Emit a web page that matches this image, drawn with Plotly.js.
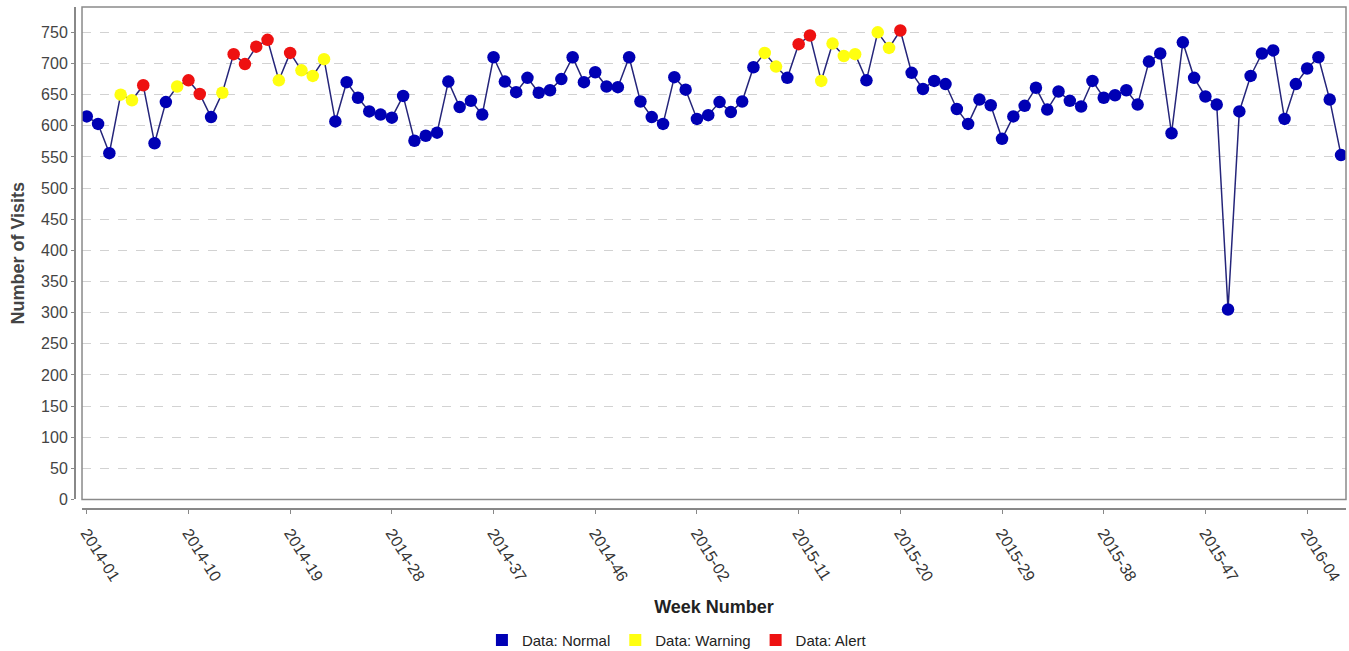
<!DOCTYPE html>
<html>
<head>
<meta charset="utf-8">
<script src="https://cdn.plot.ly/plotly-3.0.1.min.js"></script>
<style>html,body{margin:0;padding:0;background:#fff;}#chart{width:1349px;height:651px;}</style>
</head>
<body>
<div id="chart"></div>
<script>
const weeks = [
"2014-01","2014-02","2014-03","2014-04","2014-05","2014-06","2014-07","2014-08","2014-09","2014-10",
"2014-11","2014-12","2014-13","2014-14","2014-15","2014-16","2014-17","2014-18","2014-19","2014-20",
"2014-21","2014-22","2014-23","2014-24","2014-25","2014-26","2014-27","2014-28","2014-29","2014-30",
"2014-31","2014-32","2014-33","2014-34","2014-35","2014-36","2014-37","2014-38","2014-39","2014-40",
"2014-41","2014-42","2014-43","2014-44","2014-45","2014-46","2014-47","2014-48","2014-49","2014-50",
"2014-51","2014-52","2014-53",
"2015-01","2015-02","2015-03","2015-04","2015-05","2015-06","2015-07","2015-08","2015-09","2015-10",
"2015-11","2015-12","2015-13","2015-14","2015-15","2015-16","2015-17","2015-18","2015-19","2015-20",
"2015-21","2015-22","2015-23","2015-24","2015-25","2015-26","2015-27","2015-28","2015-29","2015-30",
"2015-31","2015-32","2015-33","2015-34","2015-35","2015-36","2015-37","2015-38","2015-39","2015-40",
"2015-41","2015-42","2015-43","2015-44","2015-45","2015-46","2015-47","2015-48","2015-49","2015-50",
"2015-51","2015-52",
"2016-01","2016-02","2016-03","2016-04","2016-05","2016-06","2016-07"
];

const visits = [
615,603,556,650,641,665,572,638,663,673,
651,614,653,715,699,727,738,673,717,689,
680,707,607,670,645,623,618,613,648,576,
584,589,671,630,640,618,710,671,654,677,
653,657,675,710,670,686,663,662,710,639,
614,603,678,658,611,617,638,622,639,694,
717,695,677,731,745,672,732,712,715,673,
750,725,753,685,659,672,667,627,603,642,
633,579,615,632,661,626,655,640,631,672,
645,649,657,634,703,716,588,734,677,647,
634,305,623,680,716,721,611,667,692,710,
642,553
];

const status = [
"N","N","N","W","W","A","N","N","W","A",
"A","N","W","A","A","A","A","W","A","W",
"W","W","N","N","N","N","N","N","N","N",
"N","N","N","N","N","N","N","N","N","N",
"N","N","N","N","N","N","N","N","N","N",
"N","N","N","N","N","N","N","N","N","N",
"W","W","N","A","A","W","W","W","W","N",
"W","W","A","N","N","N","N","N","N","N",
"N","N","N","N","N","N","N","N","N","N",
"N","N","N","N","N","N","N","N","N","N",
"N","N","N","N","N","N","N","N","N","N",
"N","N"
];

const tickLabels = ["2014-01","2014-10","2014-19","2014-28","2014-37","2014-46","2015-02","2015-11","2015-20","2015-29","2015-38","2015-47","2016-04"];
const yTicks = [0,50,100,150,200,250,300,350,400,450,500,550,600,650,700,750];

const seriesNames = {N: "Data: Normal", W: "Data: Warning", A: "Data: Alert"};
const seriesColors = {N: "#0000b4", W: "#ffff10", A: "#ee1111"};

const traces = [];
traces.push({
  type: "scatter", mode: "lines", x: weeks, y: visits,
  line: {color: "#25257a", width: 1.5}, showlegend: false, hoverinfo: "skip"
});
["N","W","A"].forEach(function(k){
  const xs = [], ys = [];
  for (let i = 0; i < weeks.length; i++) { if (status[i] === k) { xs.push(weeks[i]); ys.push(visits[i]); } }
  traces.push({
    type: "scatter", mode: "markers", x: xs, y: ys, name: seriesNames[k], showlegend: false,
    marker: {color: seriesColors[k], size: 12.5, line: {width: 0}}
  });
});
["N","W","A"].forEach(function(k){
  traces.push({
    type: "scatter", mode: "markers", x: [null], y: [null], name: seriesNames[k], showlegend: true,
    marker: {color: seriesColors[k], size: 12, symbol: "square"}
  });
});

const layout = {
  width: 1349, height: 651,
  margin: {l: 74, r: 3, t: 7, b: 143, autoexpand: false},
  paper_bgcolor: "#ffffff", plot_bgcolor: "#ffffff",
  font: {family: "Liberation Sans, Arial, sans-serif", color: "#333"},
  showlegend: true,
  legend: {orientation: "h", x: 0.474, xanchor: "center", y: -0.264, yanchor: "middle",
    font: {size: 15, color: "#222"}, itemwidth: 30, tracegroupgap: 0, bgcolor: "rgba(0,0,0,0)"},
  xaxis: {
    type: "category", categoryorder: "array", categoryarray: weeks,
    domain: [0.0063, 1], anchor: "free", position: 0,
    range: [-0.42, 111.44],
    tickmode: "array", tickvals: tickLabels, ticktext: tickLabels,
    tickangle: 58, tickfont: {size: 16, color: "#333"},
    ticks: "outside", ticklen: 4, tickcolor: "#888", ticklabelstandoff: 4,
    showline: true, linecolor: "#888", linewidth: 1.5,
    showgrid: false, zeroline: false,
    title: {text: "<b>Week Number</b>", font: {size: 18, color: "#222"}, standoff: 17},
    automargin: false
  },
  yaxis: {
    domain: [0.017, 1], anchor: "free", position: 0,
    range: [0, 790.7],
    tickmode: "array", tickvals: yTicks,
    tickfont: {size: 16, color: "#444"},
    ticks: "outside", ticklen: 3, tickcolor: "#888",
    showline: true, linecolor: "#888", linewidth: 1.5,
    showgrid: true, gridcolor: "#d2d2d2", griddash: "dash", gridwidth: 1,
    zeroline: false,
    title: {text: "<b>Number of Visits</b>", font: {size: 18, color: "#444"}, standoff: 10},
    automargin: false
  },
  shapes: [{
    type: "rect", xref: "x domain", yref: "y domain", x0: 0, x1: 1, y0: 0, y1: 1,
    line: {color: "#8a8a8a", width: 1.5}, fillcolor: "rgba(0,0,0,0)", layer: "above"
  }]
};

Plotly.newPlot("chart", traces, layout, {displayModeBar: false, staticPlot: true});
</script>
</body>
</html>
